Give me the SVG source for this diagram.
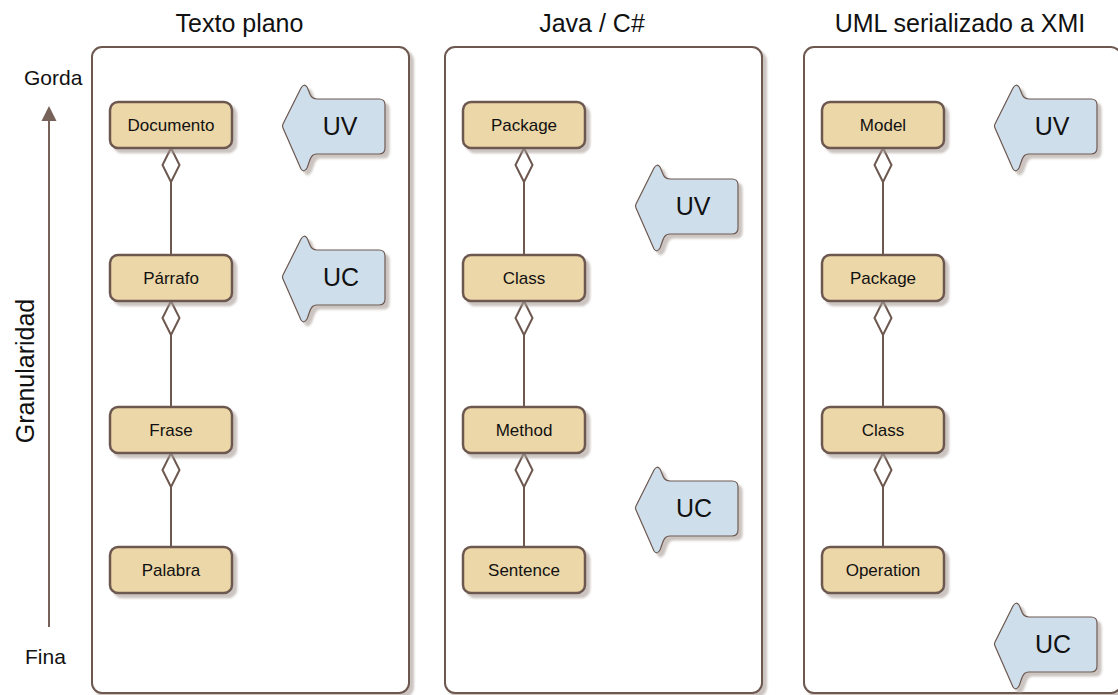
<svg xmlns="http://www.w3.org/2000/svg" width="1118" height="695" viewBox="0 0 1118 695">
<defs>
<filter id="sh" x="-10%" y="-10%" width="130%" height="140%">
<feGaussianBlur in="SourceAlpha" stdDeviation="1"/>
<feOffset dx="4" dy="4" result="o"/>
<feFlood flood-color="#a89c96" flood-opacity="0.6"/>
<feComposite in2="o" operator="in"/>
<feMerge><feMergeNode/><feMergeNode in="SourceGraphic"/></feMerge>
</filter>
<path id="arr" d="M 1,-2 L 19,-38 Q 22,-43 25,-39 C 28,-33 28,-27 35,-27 L 97,-27 Q 103,-27 103,-21 L 103,22 Q 103,28 97,28 L 35,28 C 28,28 28,35 25,42 Q 22,47 19,43 L 1,2 Q 0,0 1,-2 Z"/>
</defs>
<style>
text{font-family:"Liberation Sans",Arial,Helvetica,sans-serif;fill:#111}
.title{font-size:25px;text-anchor:middle}
.side{font-size:21px}
.panel{fill:#fff;stroke:#6d5850;stroke-width:2}
.box rect{fill:#ecd7a8;stroke:#6d5850;stroke-width:2.5}
.box text{font-size:17px;text-anchor:middle}
.big use{fill:#cedeeb;stroke:#6d5850;stroke-width:1.2}
.big text{font-size:25px;text-anchor:middle}
.con line{stroke:#6d5850;stroke-width:2}
.con polygon{fill:#fff;stroke:#6d5850;stroke-width:2}
</style>
<rect width="1118" height="695" fill="#fff"/>

<g id="axis">
<line x1="49" y1="627" x2="49" y2="118" stroke="#77625a" stroke-width="2"/>
<polygon points="49,106 41.5,121 56.5,121" fill="#77625a"/>
<text class="side" x="24" y="85">Gorda</text>
<text class="side" x="25" y="664">Fina</text>
<text x="0" y="0" font-size="25" text-anchor="middle" transform="translate(34,371) rotate(-90)">Granularidad</text>
</g>

<g id="panel1">
<rect class="panel" x="92" y="47" width="317" height="646" rx="10" filter="url(#sh)"/>
<text class="title" x="239.5" y="32">Texto plano</text>
</g>
<g id="panel2">
<rect class="panel" x="445" y="47" width="317" height="646" rx="10" filter="url(#sh)"/>
<text class="title" x="592" y="32">Java / C#</text>
</g>
<g id="panel3">
<rect class="panel" x="804" y="47" width="317" height="646" rx="10" filter="url(#sh)"/>
<text class="title" x="960" y="32">UML serializado a XMI</text>
</g>

<g id="connectors" class="con">
<line x1="171" y1="182" x2="171" y2="255"/><polygon points="171,148 179.5,165 171,182 162.5,165"/>
<line x1="171" y1="335" x2="171" y2="407"/><polygon points="171,301 179.5,318 171,335 162.5,318"/>
<line x1="171" y1="487" x2="171" y2="547"/><polygon points="171,453 179.5,470 171,487 162.5,470"/>
<line x1="524" y1="182" x2="524" y2="255"/><polygon points="524,148 532.5,165 524,182 515.5,165"/>
<line x1="524" y1="335" x2="524" y2="407"/><polygon points="524,301 532.5,318 524,335 515.5,318"/>
<line x1="524" y1="487" x2="524" y2="547"/><polygon points="524,453 532.5,470 524,487 515.5,470"/>
<line x1="883" y1="182" x2="883" y2="255"/><polygon points="883,148 891.5,165 883,182 874.5,165"/>
<line x1="883" y1="335" x2="883" y2="407"/><polygon points="883,301 891.5,318 883,335 874.5,318"/>
<line x1="883" y1="487" x2="883" y2="547"/><polygon points="883,453 891.5,470 883,487 874.5,470"/>
</g>

<g id="documento" class="box"><rect x="110" y="102" width="122" height="46" rx="8" filter="url(#sh)"/><text x="171" y="131">Documento</text></g>
<g id="parrafo" class="box"><rect x="110" y="255" width="122" height="46" rx="8" filter="url(#sh)"/><text x="171" y="284">Párrafo</text></g>
<g id="frase" class="box"><rect x="110" y="407" width="122" height="46" rx="8" filter="url(#sh)"/><text x="171" y="436">Frase</text></g>
<g id="palabra" class="box"><rect x="110" y="547" width="122" height="46" rx="8" filter="url(#sh)"/><text x="171" y="576">Palabra</text></g>

<g id="package2" class="box"><rect x="463" y="102" width="122" height="46" rx="8" filter="url(#sh)"/><text x="524" y="131">Package</text></g>
<g id="class2" class="box"><rect x="463" y="255" width="122" height="46" rx="8" filter="url(#sh)"/><text x="524" y="284">Class</text></g>
<g id="method" class="box"><rect x="463" y="407" width="122" height="46" rx="8" filter="url(#sh)"/><text x="524" y="436">Method</text></g>
<g id="sentence" class="box"><rect x="463" y="547" width="122" height="46" rx="8" filter="url(#sh)"/><text x="524" y="576">Sentence</text></g>

<g id="model" class="box"><rect x="822" y="102" width="122" height="46" rx="8" filter="url(#sh)"/><text x="883" y="131">Model</text></g>
<g id="package3" class="box"><rect x="822" y="255" width="122" height="46" rx="8" filter="url(#sh)"/><text x="883" y="284">Package</text></g>
<g id="class3" class="box"><rect x="822" y="407" width="122" height="46" rx="8" filter="url(#sh)"/><text x="883" y="436">Class</text></g>
<g id="operation" class="box"><rect x="822" y="547" width="122" height="46" rx="8" filter="url(#sh)"/><text x="883" y="576">Operation</text></g>

<g id="uv1" class="big"><use href="#arr" transform="translate(282,126)" filter="url(#sh)"/><text x="340" y="135">UV</text></g>
<g id="uc1" class="big"><use href="#arr" transform="translate(282,277)" filter="url(#sh)"/><text x="341" y="286">UC</text></g>
<g id="uv2" class="big"><use href="#arr" transform="translate(635,206)" filter="url(#sh)"/><text x="693" y="215">UV</text></g>
<g id="uc2" class="big"><use href="#arr" transform="translate(635,508)" filter="url(#sh)"/><text x="694" y="517">UC</text></g>
<g id="uv3" class="big"><use href="#arr" transform="translate(994,126)" filter="url(#sh)"/><text x="1052" y="135">UV</text></g>
<g id="uc3" class="big"><use href="#arr" transform="translate(994,644)" filter="url(#sh)"/><text x="1053" y="653">UC</text></g>
</svg>
